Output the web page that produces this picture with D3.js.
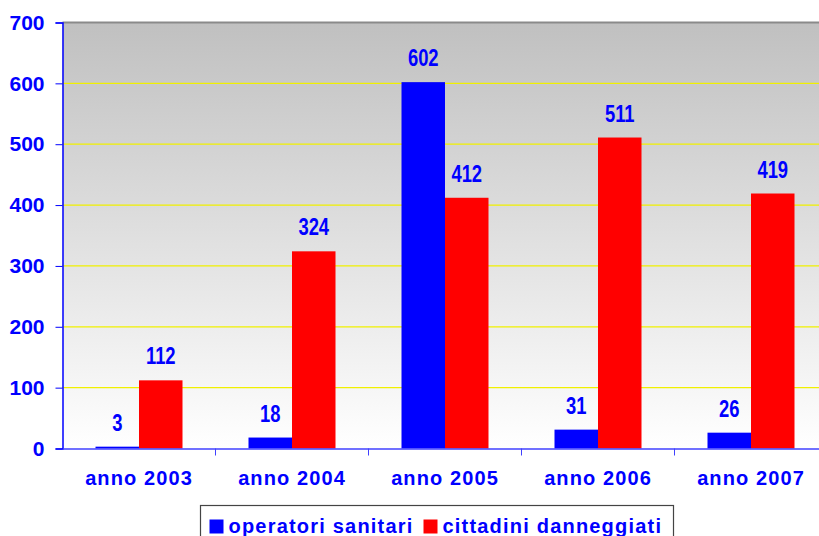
<!DOCTYPE html>
<html>
<head>
<meta charset="utf-8">
<script src="https://cdn.jsdelivr.net/npm/d3@7"></script>
<style>
  body { margin: 0; background: #fff; overflow: hidden; }
  text { font-family: "Liberation Sans", Arial, sans-serif; font-weight: bold; fill: #0000ff; }
</style>
</head>
<body>
<div id="chart"></div>
<script>
var years = ["anno 2003", "anno 2004", "anno 2005", "anno 2006", "anno 2007"];
var operatori = [3, 18, 602, 31, 26];
var cittadini = [112, 324, 412, 511, 419];
var seriesNames = ["operatori sanitari", "cittadini danneggiati"];
var seriesColors = ["#0000ff", "#ff0000"];
var yTicks = [0, 100, 200, 300, 400, 500, 600, 700];

var dim = { width: 819, height: 536, left: 62.5, top: 22.5, plotW: 765, plotH: 426 };

var x = d3.scaleBand().domain(years).range([0, dim.plotW]).paddingInner(0).paddingOuter(0);
var inner = d3.scaleBand().domain([0, 1]).range([33, 153 - 33]);
var y = d3.scaleLinear().domain([0, 700]).range([dim.plotH, 0]);

var svg = d3.select("#chart").append("svg")
    .attr("width", dim.width)
    .attr("height", dim.height);

var grad = svg.append("defs").append("linearGradient")
    .attr("id", "bg").attr("x1", 0).attr("y1", 0).attr("x2", 0).attr("y2", 1);
grad.append("stop").attr("offset", "0%").attr("stop-color", "#c0c0c0");
grad.append("stop").attr("offset", "100%").attr("stop-color", "#ffffff");

var g = svg.append("g").attr("transform", "translate(" + dim.left + "," + dim.top + ")");

g.append("rect")
    .attr("width", dim.plotW).attr("height", dim.plotH)
    .attr("fill", "url(#bg)");
g.append("line")
    .attr("x1", 0).attr("x2", dim.plotW).attr("y1", 0).attr("y2", 0)
    .attr("stroke", "#8a8a8a").attr("stroke-width", 2);

// gridlines
g.selectAll("line.grid").data(yTicks.filter(function(d) { return d > 0 && d < 700; }))
  .enter().append("line")
    .attr("class", "grid")
    .attr("x1", 0).attr("x2", dim.plotW)
    .attr("y1", function(d) { return y(d); }).attr("y2", function(d) { return y(d); })
    .attr("stroke", "#f0f000").attr("stroke-width", 1.2);

// bars
var groups = g.selectAll("g.year").data(years).enter().append("g")
    .attr("class", "year")
    .attr("transform", function(d) { return "translate(" + x(d) + ",0)"; });
[operatori, cittadini].forEach(function(vals, s) {
  groups.append("rect")
      .attr("x", inner(s))
      .attr("width", inner.bandwidth())
      .attr("y", function(d, i) { return y(vals[i]); })
      .attr("height", function(d, i) { return dim.plotH - y(vals[i]); })
      .attr("fill", seriesColors[s]);
  groups.append("text")
      .attr("transform", function(d, i) {
        return "translate(" + (inner(s) + inner.bandwidth() / 2) + "," + (y(vals[i]) - 16) + ") scale(0.8,1)";
      })
      .attr("text-anchor", "middle")
      .style("font-size", "23px")
      .text(function(d, i) { return vals[i]; });
});

// y axis
var yAxis = d3.axisLeft(y).tickValues(yTicks).tickSize(7).tickPadding(11);
var ya = g.append("g").call(yAxis);
ya.select(".domain").attr("stroke", "#0000ff").attr("stroke-width", 1.5);
ya.selectAll(".tick line").attr("stroke", "#0000ff");
ya.selectAll(".tick text").style("font-size", "21px").attr("fill", "#0000ff");

// x axis
var xAxis = d3.axisBottom(x).tickSize(0).tickPadding(22);
var xa = g.append("g").attr("transform", "translate(0," + dim.plotH + ")").call(xAxis);
xa.select(".domain").attr("stroke", "#4040ff").attr("stroke-width", 1.5);
xa.selectAll(".tick text").style("font-size", "20px").attr("fill", "#0000ff").attr("letter-spacing", "1.1px");
xa.selectAll("line.sep").data(d3.range(1, years.length)).enter().append("line")
    .attr("class", "sep")
    .attr("x1", function(d) { return d * x.step(); }).attr("x2", function(d) { return d * x.step(); })
    .attr("y1", 0).attr("y2", 7)
    .attr("stroke", "#4040ff");

// legend
var leg = svg.append("g").attr("transform", "translate(200.5,505.5)");
leg.append("rect")
    .attr("width", 473).attr("height", 40)
    .attr("fill", "#fff").attr("stroke", "#444").attr("stroke-width", 1.2);
var legX = [9, 223];
seriesNames.forEach(function(name, s) {
  leg.append("rect")
      .attr("x", legX[s]).attr("y", 14).attr("width", 14).attr("height", 14)
      .attr("fill", seriesColors[s]);
  leg.append("text")
      .attr("x", legX[s] + 19).attr("y", 27)
      .style("font-size", "20px").attr("letter-spacing", "1.2px")
      .text(name);
});
</script>
</body>
</html>
